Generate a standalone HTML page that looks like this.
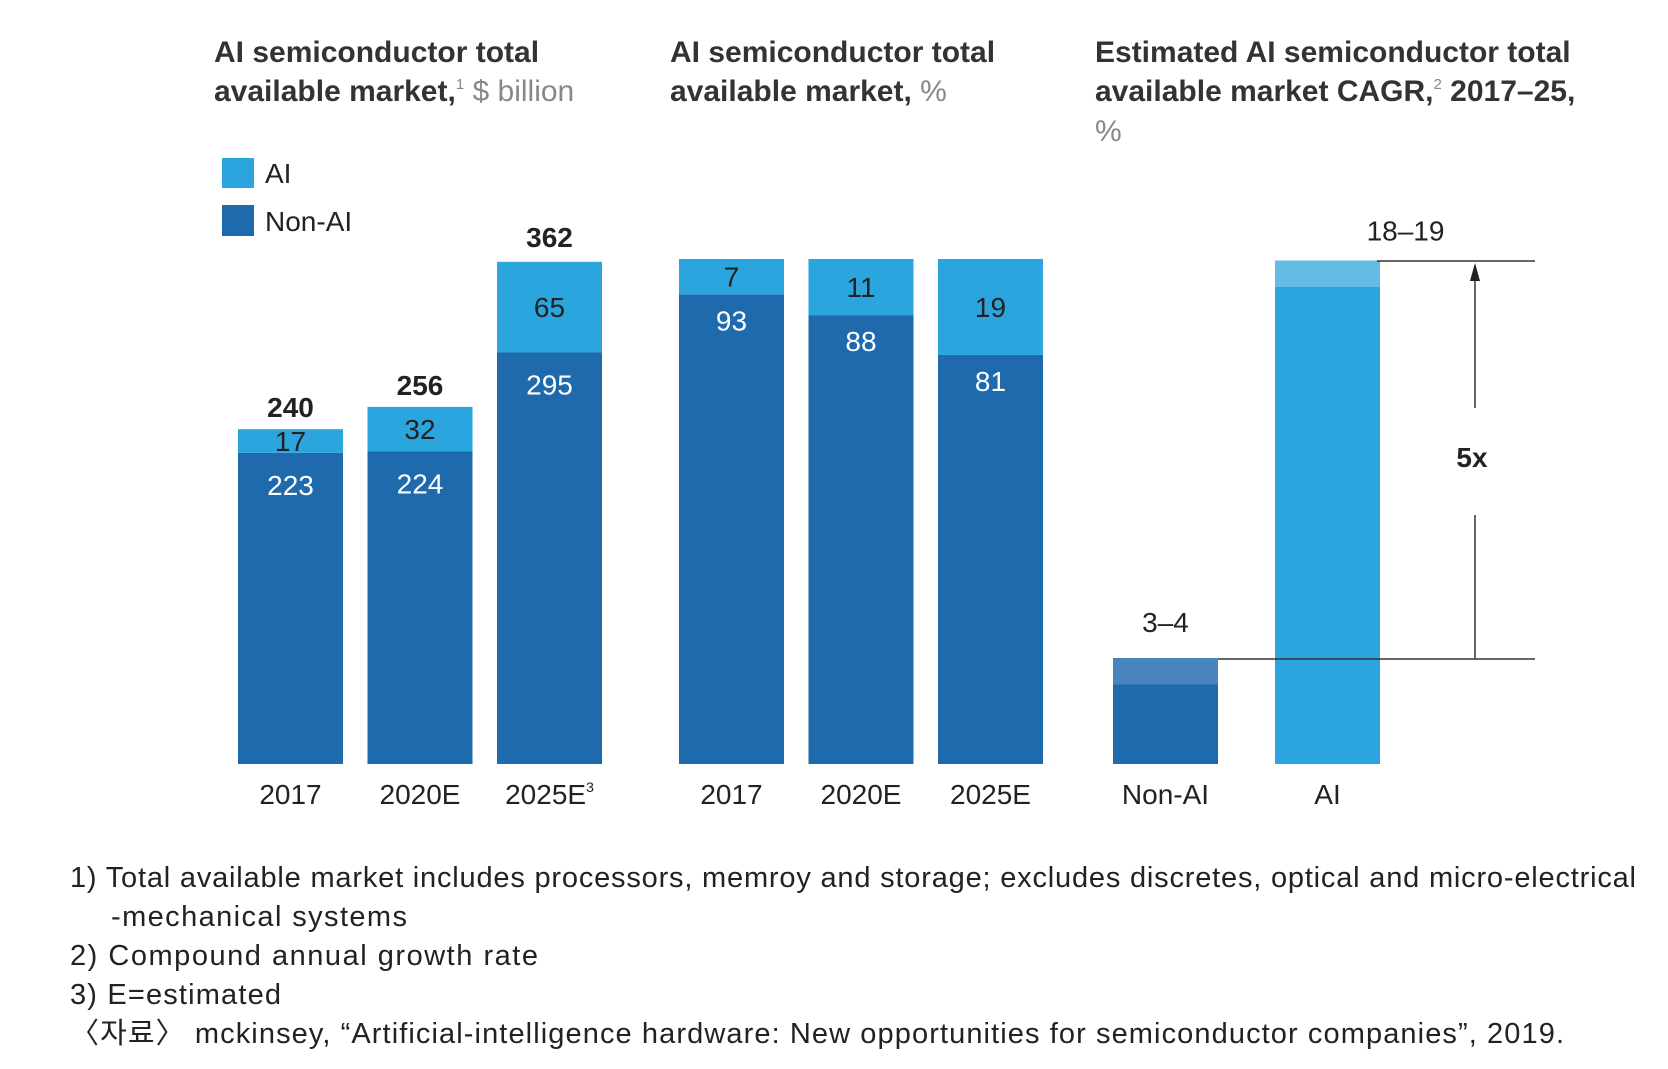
<!DOCTYPE html>
<html><head><meta charset="utf-8"><style>
html,body{margin:0;padding:0;background:#fff}
svg{display:block;font-family:"Liberation Sans","Noto Sans CJK KR",sans-serif}
</style></head><body>
<svg id="c" width="1668" height="1069" viewBox="0 0 1668 1069">
<g font-size="30" fill="#333" font-weight="bold">
<text x="214" y="62">AI semiconductor total</text>
<text x="214" y="101">available market,<tspan font-size="15" dy="-12" font-weight="normal" fill="#888">1</tspan><tspan dy="12" font-weight="normal" fill="#888"> $ billion</tspan></text>
</g>
<g font-size="30" fill="#333" font-weight="bold">
<text x="670" y="62">AI semiconductor total</text>
<text x="670" y="101">available market, <tspan font-weight="normal" fill="#888">%</tspan></text>
</g>
<g font-size="30" fill="#333" font-weight="bold">
<text x="1095" y="62">Estimated AI semiconductor total</text>
<text x="1095" y="101">available market CAGR,<tspan font-size="15" dy="-12" font-weight="normal" fill="#888">2</tspan><tspan dy="12"> 2017–25,</tspan></text>
<text x="1095" y="141" font-weight="normal" fill="#888">%</text>
</g>
<g font-size="28" fill="#222">
<rect x="222" y="158" width="32" height="30" fill="#2ba5de"/>
<text x="265" y="183">AI</text>
<rect x="222" y="205" width="32" height="31" fill="#1f69ad"/>
<text x="265" y="231">Non-AI</text>
</g>
<g id="bars"></g>
<g stroke="#333" stroke-width="1.5" fill="none">
<line x1="1377" y1="261" x2="1535" y2="261"/>
<line x1="1218" y1="659" x2="1535" y2="659"/>
<line x1="1475" y1="659" x2="1475" y2="515"/>
<line x1="1475" y1="408" x2="1475" y2="274"/>
<polygon points="1475,263 1470,281 1480,281" fill="#222" stroke="none"/>
</g>
<text x="1472" y="467" font-size="28" font-weight="bold" text-anchor="middle" fill="#222">5x</text>
<g font-size="29" fill="#222">
<text x="70" y="887" textLength="1566" lengthAdjust="spacing">1) Total available market includes processors, memroy and storage; excludes discretes, optical and micro-electrical</text>
<text x="111" y="926" textLength="296" lengthAdjust="spacing">-mechanical systems</text>
<text x="70" y="965" textLength="468" lengthAdjust="spacing">2) Compound annual growth rate</text>
<text x="70" y="1004" textLength="211" lengthAdjust="spacing">3) E=estimated</text>
<text x="70" y="1043" textLength="1494" lengthAdjust="spacing">〈자료〉 mckinsey, “Artificial-intelligence hardware: New opportunities for semiconductor companies”, 2019.</text>
</g>
</svg>
<script>
const tamCategories = ["2017","2020E","2025E"];
const tamNonAI = [223,224,295];
const tamAI = [17,32,65];
const tamTotals = [240,256,362];
const shareCategories = ["2017","2020E","2025E"];
const shareNonAI = [93,88,81];
const shareAI = [7,11,19];
const cagrCategories = ["Non-AI","AI"];
const cagrLow = [3,18];
const cagrHigh = [4,19];
const cagrLabels = ["3–4","18–19"];

const NS="http://www.w3.org/2000/svg";
const g=document.getElementById('bars');
const base=764, bw=105;
const DARK="#1f69ad", LIGHT="#2ba5de";
function el(t,a){const e=document.createElementNS(NS,t);for(const k in a)e.setAttribute(k,a[k]);g.appendChild(e);return e;}
function txt(x,y,s,opt){const e=el('text',Object.assign({x:x,y:y,'text-anchor':'middle','font-size':28,fill:'#222'},opt||{}));e.textContent=s;return e;}
const yTam=v=>base-v*(505/362);
const yShare=v=>base-v*5.05;
const yCagr=v=>base-v*26.5;
const xTam=i=>238+i*129.5;
const xShare=i=>679+i*129.5;
const xCagr=i=>1113+i*162;

tamCategories.forEach((c,i)=>{
  const x=xTam(i), cx=x+bw/2;
  const r1=el('rect',{x:x,y:yTam(tamNonAI[i]),width:bw,height:base-yTam(tamNonAI[i]),fill:DARK});
  
  
  const r2=el('rect',{x:x,y:yTam(tamNonAI[i]+tamAI[i]),width:bw,height:yTam(tamNonAI[i])-yTam(tamNonAI[i]+tamAI[i]),fill:LIGHT});
  
  
  const t1=txt(cx,yTam(tamNonAI[i])+42,String(tamNonAI[i]),{fill:'#fff'});
  
  
  const aiMid=(yTam(tamNonAI[i])+yTam(tamNonAI[i]+tamAI[i]))/2;
  const t2=txt(cx,aiMid+10,String(tamAI[i]),{fill:'#222'});
  
  
  const t3=txt(cx,yTam(tamTotals[i])-12,String(tamTotals[i]),{'font-weight':'bold'});
  
  
  const t4=txt(cx,804,c,{});
  if(i===2){const sp=document.createElementNS(NS,'tspan');sp.setAttribute('font-size','14');sp.setAttribute('dy','-12');sp.textContent='3';t4.appendChild(sp);}
  
  
});

shareCategories.forEach((c,i)=>{
  const x=xShare(i), cx=x+bw/2;
  const tot=shareNonAI[i]+shareAI[i];
  const nonTop=yShare(100*shareNonAI[i]/tot), top=yShare(100);
  const r1=el('rect',{x:x,y:nonTop,width:bw,height:base-nonTop,fill:DARK});
  
  
  const r2=el('rect',{x:x,y:top,width:bw,height:nonTop-top,fill:LIGHT});
  
  
  const t1=txt(cx,nonTop+36,String(shareNonAI[i]),{fill:'#fff'});
  
  
  const mid=(nonTop+top)/2;
  const t2=txt(cx,mid+10,String(shareAI[i]),{});
  
  
  const t4=txt(cx,804,c,{});
  
  
});

cagrCategories.forEach((c,i)=>{
  const x=xCagr(i), cx=x+bw/2;
  const col=i===0?DARK:LIGHT, band=i===0?"#4a84bf":"#62bce6";
  const r1=el('rect',{x:x,y:yCagr(cagrLow[i]),width:bw,height:base-yCagr(cagrLow[i]),fill:col});
  
  
  const r2=el('rect',{x:x,y:yCagr(cagrHigh[i]),width:bw,height:yCagr(cagrLow[i])-yCagr(cagrHigh[i]),fill:band});
  
  
  const t=txt(i===0?cx:cx+78,yCagr(cagrHigh[i])-(i===0?26:20),cagrLabels[i],{});
  
  
  const t4=txt(cx,804,c,{});
  
  
});
</script>
</body></html>
